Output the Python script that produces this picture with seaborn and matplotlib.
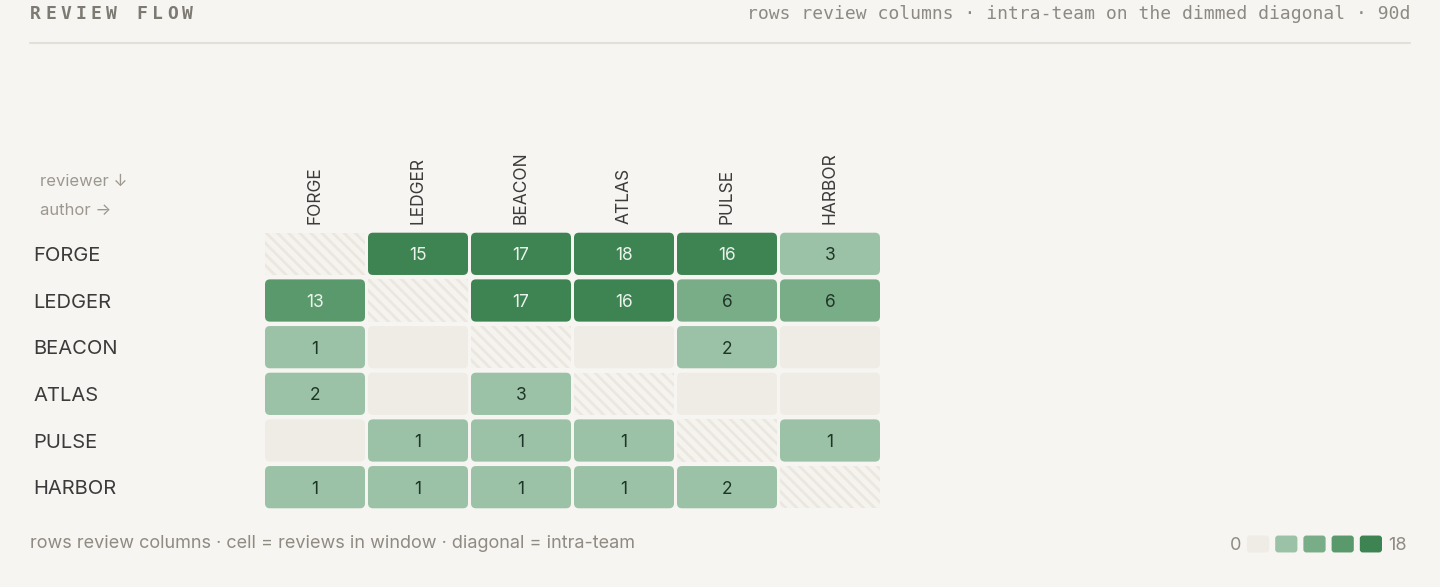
import matplotlib
matplotlib.use("Agg")
import matplotlib.pyplot as plt
from matplotlib.colors import ListedColormap
from matplotlib.patches import FancyBboxPatch, Rectangle
import numpy as np
import pandas as pd
import seaborn as sns

# data
TEAMS = ["FORGE", "LEDGER", "BEACON", "ATLAS", "PULSE", "HARBOR"]
FORGE_ROW = [0, 15, 17, 18, 16, 3]
LEDGER_ROW = [13, 0, 17, 16, 6, 6]
BEACON_ROW = [1, 0, 0, 0, 2, 0]
ATLAS_ROW = [2, 0, 3, 0, 0, 0]
PULSE_ROW = [0, 1, 1, 1, 0, 1]
HARBOR_ROW = [1, 1, 1, 1, 2, 0]
VMAX = 18

BG = "#f7f5f1"
EMPTY = "#efece6"
BUCKETS = [EMPTY, "#9bc2a6", "#79ad88", "#5a996c", "#3e8452"]
TEXT_DARK = "#1f3527"
TEXT_LIGHT = "#eaf3ec"
SANS = ["Inter", "DejaVu Sans"]
MONO = ["DejaVu Sans Mono"]

sns.set_style("white")
plt.rcParams["font.family"] = SANS
plt.rcParams["hatch.linewidth"] = 2.0
plt.rcParams["hatch.color"] = "#ebe7e0"

counts = pd.DataFrame([FORGE_ROW, LEDGER_ROW, BEACON_ROW, ATLAS_ROW, PULSE_ROW, HARBOR_ROW],
                      index=TEAMS, columns=TEAMS)
n = len(TEAMS)
diag = np.eye(n, dtype=bool)
# quartile buckets of v / max
bucket = np.where(counts.values > 0, np.ceil(counts.values / VMAX * 4), 0).astype(int)
bucket_df = pd.DataFrame(bucket, index=TEAMS, columns=TEAMS)
labels = np.where(counts.values > 0, counts.values.astype(str), "")
cmap = ListedColormap(BUCKETS)

W, H = 1440, 587
fig = plt.figure(figsize=(W / 100, H / 100), dpi=100)
fig.patch.set_facecolor(BG)


def fx(px):
    return px / W


def fy(py):
    return 1 - py / H


# header
title = "REVIEW FLOW"
for i, ch in enumerate(title):
    fig.text(fx(30 + i * 15.2), fy(14), ch, family=MONO, weight="bold", fontsize=13,
             color="#7d7a73", va="center", ha="left")
fig.text(fx(1410), fy(14), "rows review columns · intra-team on the dimmed diagonal · 90d",
         family=MONO, fontsize=13.0, color="#8d8a83", ha="right", va="center")
fig.add_artist(plt.Line2D([fx(30), fx(1410)], [fy(43), fy(43)], color="#e3e0da", lw=1.5))

fig.text(fx(40), fy(181), "reviewer ↓", fontsize=12, color="#9c988f", va="center")
fig.text(fx(40), fy(211), "author →", fontsize=12, color="#9c988f", va="center")

# matrix
ax = fig.add_axes([fx(263.5), fy(510.5), fx(618), 280 / H])
ax.set_facecolor(BG)
sns.heatmap(bucket_df, cmap=cmap, vmin=-0.5, vmax=4.5, mask=diag, annot=labels, fmt="",
            cbar=False, ax=ax, annot_kws={"fontsize": 12.5, "va": "center_baseline"})
ax.collections[0].set_visible(False)

px_x = 618 / n
px_y = 280 / n
ix, iy = 1.5 / px_x, 2.2 / px_y
rnd = 5 / px_x
asp = px_x / px_y
for r in range(n):
    for c in range(n):
        if diag[r, c]:
            ax.add_patch(Rectangle((c + ix, r + iy), 1 - 2 * ix, 1 - 2 * iy,
                                   facecolor="#f5f3ee", edgecolor="#ebe7e0", lw=0,
                                   hatch="\\\\\\", zorder=0.5))
            continue
        ax.add_patch(FancyBboxPatch((c + ix, r + iy), 1 - 2 * ix, 1 - 2 * iy,
                                    boxstyle=f"round,pad=0,rounding_size={rnd}",
                                    mutation_aspect=asp, facecolor=cmap(bucket[r, c]),
                                    edgecolor="none", zorder=0.5))

for t in ax.texts:
    r = int(t.get_position()[1])
    c = int(t.get_position()[0])
    t.set_color(TEXT_LIGHT if bucket[r, c] >= 3 else TEXT_DARK)
    t.set_zorder(3)

ax.xaxis.tick_top()
ax.set_xticklabels(TEAMS, rotation=90, fontsize=12.5, color="#3b3b3b", va="bottom")
ax.set_yticklabels(TEAMS, rotation=0, fontsize=14.5, color="#3b3b3b", ha="left",
                   va="center_baseline")
ax.tick_params(axis="x", length=0, pad=5)
ax.tick_params(axis="y", length=0, pad=230.5 * 0.72)
ax.set_xlabel("")
ax.set_ylabel("")
for s in ax.spines.values():
    s.set_visible(False)

# footer
fig.text(fx(30), fy(544), "rows review columns · cell = reviews in window · diagonal = intra-team",
         fontsize=13, color="#8f8b83", va="center")

# legend swatches
lax = fig.add_axes([fx(1244), fy(553), fx(141), 18 / H])
lax.set_facecolor(BG)
lvals = pd.DataFrame([list(range(len(BUCKETS)))])
sns.heatmap(lvals, cmap=cmap, vmin=-0.5, vmax=4.5, cbar=False, ax=lax,
            xticklabels=False, yticklabels=False)
lax.collections[0].set_visible(False)
lw_px = 141 / len(BUCKETS)
lix = 3 / lw_px
for k in range(len(BUCKETS)):
    lax.add_patch(FancyBboxPatch((k + lix, 0.03), 1 - 2 * lix, 0.94,
                                 boxstyle=f"round,pad=0,rounding_size={3 / lw_px}",
                                 mutation_aspect=lw_px / 18, facecolor=cmap(k),
                                 edgecolor="none"))
for s in lax.spines.values():
    s.set_visible(False)
fig.text(fx(1241), fy(544), "0", fontsize=13, color="#8f8b83", ha="right", va="center_baseline")
fig.text(fx(1388), fy(544), str(VMAX), fontsize=13, color="#8f8b83", ha="left",
         va="center_baseline")

fig.savefig("out.png", dpi=100, facecolor=BG)
